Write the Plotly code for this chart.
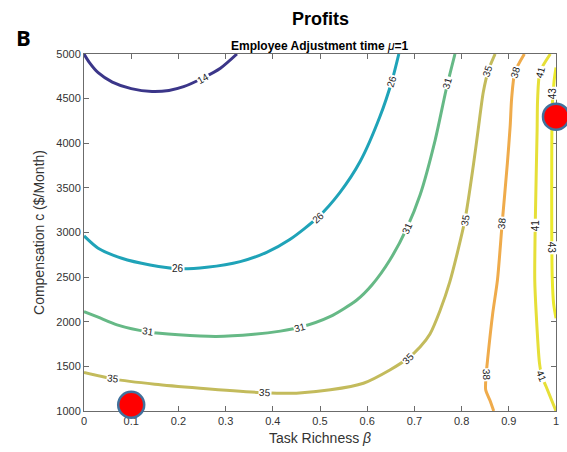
import plotly.graph_objects as go

# Contour levels of profit and their line colours (parula-like)
levels = [14, 26, 31, 35, 38, 41, 43]
colors = ["#3b3689", "#1fa3b8", "#66b986", "#c3bb5c", "#efab4b", "#e6df38", "#ebe92c"]

# Traced iso-profit curves: task richness beta vs compensation c
beta_14 = [0, 0.012, 0.03, 0.06, 0.10, 0.144, 0.18, 0.211, 0.252, 0.289, 0.324]
comp_14 = [5000, 4900, 4790, 4685, 4612, 4580, 4592, 4634, 4731, 4840, 5000]

beta_26 = [0, 0.03, 0.08, 0.14, 0.199, 0.26, 0.331, 0.387, 0.436, 0.496, 0.542, 0.585, 0.627, 0.653, 0.667]
comp_26 = [2962, 2824, 2712, 2637, 2595, 2611, 2674, 2778, 2921, 3172, 3447, 3795, 4299, 4709, 5000]

beta_31 = [0, 0.03, 0.07, 0.136, 0.2, 0.28, 0.36, 0.416, 0.458, 0.521, 0.578, 0.610, 0.648, 0.684, 0.712, 0.744, 0.768, 0.786]
comp_31 = [2114, 2051, 1965, 1886, 1855, 1836, 1860, 1895, 1938, 2057, 2244, 2412, 2692, 3050, 3420, 4036, 4619, 5000]

beta_35 = [0, 0.061, 0.15, 0.246, 0.383, 0.45, 0.522, 0.592, 0.648, 0.687, 0.712, 0.733, 0.754,
           0.775, 0.807, 0.825, 0.835, 0.846, 0.857, 0.871]
comp_35 = [1431, 1360, 1300, 1256, 1204, 1200, 1237, 1311, 1460, 1594, 1717, 1863, 2121,
           2446, 3140, 3756, 4148, 4574, 4821, 5000]

beta_38 = [0.868, 0.860, 0.851, 0.852, 0.855, 0.866, 0.876, 0.886, 0.897, 0.903, 0.906, 0.913, 0.933]
comp_38 = [1000, 1120, 1237, 1404, 1573, 2096, 2469, 3107, 3776, 4200, 4500, 4798, 5000]

beta_41 = [1.0, 0.979, 0.970, 0.965, 0.958, 0.955, 0.956, 0.960, 0.961, 0.966, 0.988]
comp_41 = [1000, 1274, 1392, 1536, 2096, 2469, 3084, 4149, 4485, 4798, 5000]

beta_43 = [1.0, 0.996, 0.992, 0.991, 0.991, 0.992, 0.995, 1.0]
comp_43 = [4850, 4700, 4400, 3800, 3000, 2500, 2200, 2040]

curves = [(beta_14, comp_14), (beta_26, comp_26), (beta_31, comp_31), (beta_35, comp_35),
          (beta_38, comp_38), (beta_41, comp_41), (beta_43, comp_43)]

# Inline contour labels: level, position and rotation
label_level = [14, 26, 26, 26, 31, 31, 31, 31, 35, 35, 35, 35, 35, 38, 38, 38, 41, 41, 41, 43, 43]
label_beta = [0.252, 0.199, 0.496, 0.652, 0.136, 0.458, 0.684, 0.770, 0.061, 0.383, 0.687, 0.807,
              0.856, 0.852, 0.886, 0.913, 0.970, 0.956, 0.966, 0.992, 0.992]
label_comp = [4731, 2595, 3172, 4690, 1886, 1938, 3050, 4680, 1360, 1204, 1592, 3140,
              4810, 1404, 3107, 4798, 1392, 3084, 4798, 2826, 4563]
label_angle = [-30, 0, -42, -74, 8, -15, -65, -74, 7, 3, -45, -80,
               -72, 88, -85, -72, 68, -90, -75, 90, -90]

# Highlighted operating points
point_beta = [0.1, 1.0]
point_comp = [1070, 4298]

fig = go.Figure()

for (bx, cy), lev, col in zip(curves, levels, colors):
    fig.add_trace(go.Scatter(
        x=bx, y=cy, mode="lines", name=str(lev),
        line=dict(color=col, width=3, shape="spline", smoothing=0.7),
        hoverinfo="skip", showlegend=False,
    ))

fig.add_trace(go.Scatter(
    x=point_beta, y=point_comp, mode="markers",
    marker=dict(size=26, color="#ff0000", line=dict(color="#41719c", width=2.5)),
    cliponaxis=False, showlegend=False, hoverinfo="skip",
))

label_font = dict(family="Liberation Sans", size=10, color="#222222")
for lev, bx, cy, ang in zip(label_level, label_beta, label_comp, label_angle):
    fig.add_annotation(
        x=bx, y=cy, xref="x", yref="y", text=str(lev), showarrow=False,
        textangle=ang, font=label_font, bgcolor="white", borderpad=0,
    )

axis_common = dict(
    showgrid=False, zeroline=False, showline=True, linecolor="#6b6b6b", linewidth=1,
    mirror="ticks", ticks="inside", ticklen=5, tickcolor="#6b6b6b", tickwidth=1,
    tickfont=dict(family="Liberation Sans", size=11, color="#333333"),
    layer="below traces",
)

fig.update_xaxes(
    range=[0, 1], tickvals=[0, 0.1, 0.2, 0.3, 0.4, 0.5, 0.6, 0.7, 0.8, 0.9, 1],
    ticktext=["0", "0.1", "0.2", "0.3", "0.4", "0.5", "0.6", "0.7", "0.8", "0.9", "1"],
    title=dict(text="Task Richness <i>β</i>", standoff=6,
               font=dict(family="Liberation Sans", size=14, color="#333333")),
    **axis_common,
)
fig.update_yaxes(
    range=[1000, 5000], tickvals=[1000, 1500, 2000, 2500, 3000, 3500, 4000, 4500, 5000],
    title=dict(text="Compensation c ($/Month)", standoff=8,
               font=dict(family="Liberation Sans", size=14, color="#333333")),
    **axis_common,
)

fig.add_annotation(
    text="<b>Profits</b>", showarrow=False, xref="paper", yref="paper",
    x=0.5, y=1.0, yanchor="middle", yshift=35,
    font=dict(family="Liberation Sans", size=18, color="#000000"),
)
fig.add_annotation(
    text="<b>Employee Adjustment time </b><i>μ</i><b>=1</b>", showarrow=False,
    xref="paper", yref="paper", x=0.5, y=1.0, yanchor="middle", yshift=8,
    font=dict(family="Liberation Sans", size=12, color="#000000"),
)
fig.add_annotation(
    text="<b>B</b>", showarrow=False, xref="paper", yref="paper",
    x=0, y=1, xanchor="center", yanchor="middle", xshift=-61, yshift=17,
    font=dict(family="Open Sans", size=22, color="#000000"),
)

fig.update_layout(
    width=567, height=452,
    margin=dict(l=84, r=11, t=54, b=41, autoexpand=False),
    plot_bgcolor="white", paper_bgcolor="white",
)

fig.write_html("out.html")
